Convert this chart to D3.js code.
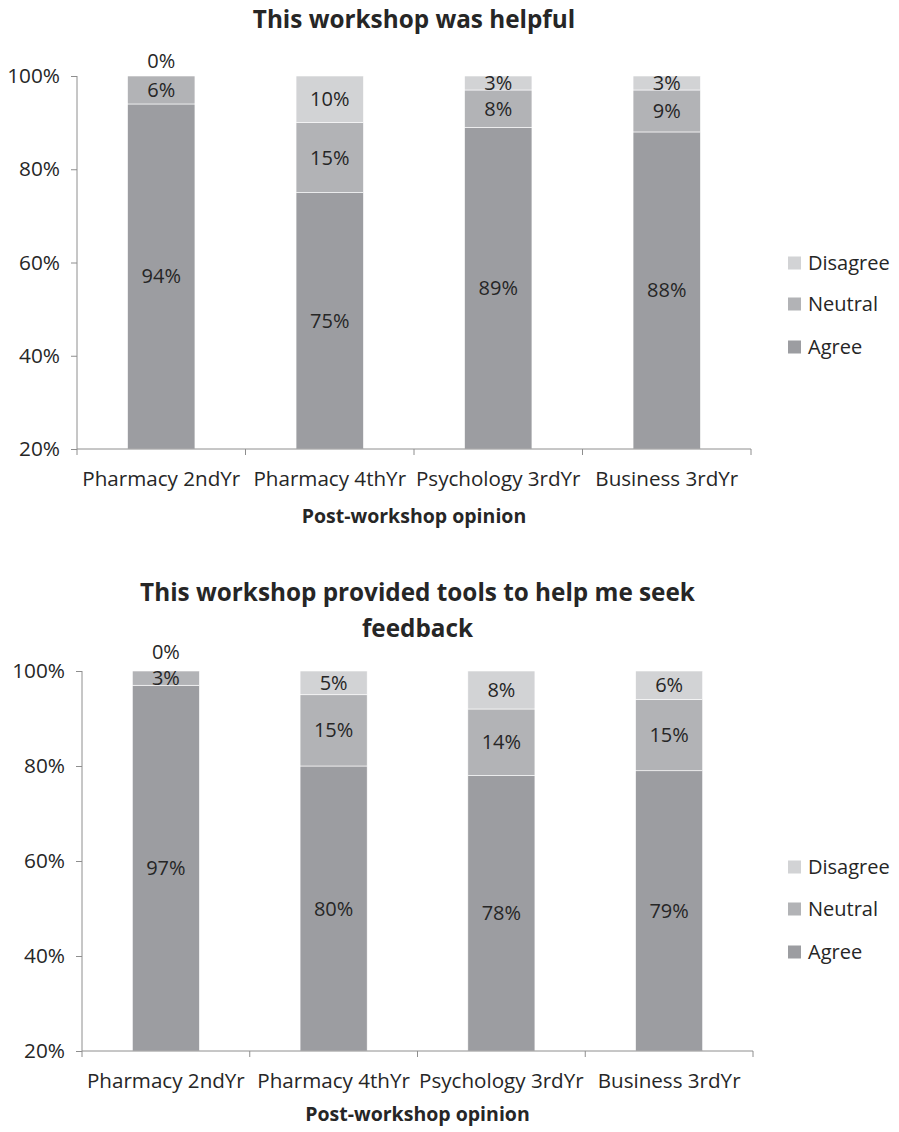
<!DOCTYPE html>
<html>
<head>
<meta charset="utf-8">
<script src="https://cdn.jsdelivr.net/npm/d3@7"></script>
<style>
  html, body { margin: 0; padding: 0; background: #fff; }
  svg { display: block; font-family: "Open Sans", "Noto Sans", sans-serif; }
</style>
</head>
<body>
<svg id="chart" width="899" height="1132"></svg>
<script>
// Survey groups and response categories
const categories = ["Pharmacy 2ndYr", "Pharmacy 4thYr", "Psychology 3rdYr", "Business 3rdYr"];
const seriesNames = ["Agree", "Neutral", "Disagree"];
const legendOrder = ["Disagree", "Neutral", "Agree"];
const yTicks = [20, 40, 60, 80, 100];

// "This workshop was helpful" (percent of respondents)
const helpfulAgree = [94, 75, 89, 88];
const helpfulNeutral = [6, 15, 8, 9];
const helpfulDisagree = [0, 10, 3, 3];

// "This workshop provided tools to help me seek feedback"
const toolsAgree = [97, 80, 78, 79];
const toolsNeutral = [3, 15, 14, 15];
const toolsDisagree = [0, 5, 8, 6];

const colors = { Agree: "#9c9da1", Neutral: "#b2b3b6", Disagree: "#d2d3d5" };
const axisColor = "#8e8e8e";
const textColor = "#262626";

const svg = d3.select("#chart");

function drawChart(opts) {
  const { titleLines, titleBaselines, left, right, top, bottom,
          catBaseline, xTitleBaseline, legendX, legendRows, data } = opts;

  const g = svg.append("g");

  // rows for stacking
  const rows = categories.map((c, i) => ({
    category: c,
    Agree: data.Agree[i], Neutral: data.Neutral[i], Disagree: data.Disagree[i]
  }));
  const stacked = d3.stack().keys(seriesNames)(rows);

  const x = d3.scaleBand().domain(categories).range([left, right])
    .paddingInner(0.6).paddingOuter(0.3);
  const y = d3.scaleLinear().domain([20, 100]).range([bottom, top]).clamp(true);

  // title
  titleLines.forEach((t, i) => {
    g.append("text")
      .attr("x", (left + right) / 2)
      .attr("y", titleBaselines[i])
      .attr("text-anchor", "middle")
      .attr("font-size", 24.3)
      .attr("font-weight", 700)
      .attr("fill", textColor)
      .text(t);
  });

  // stacked segments
  stacked.forEach(layer => {
    g.append("g").selectAll("rect")
      .data(layer)
      .join("rect")
      .attr("x", d => x(d.data.category))
      .attr("width", x.bandwidth())
      .attr("y", d => y(d[1]))
      .attr("height", d => Math.max(0, y(d[0]) - y(d[1])))
      .attr("fill", colors[layer.key])
      .attr("stroke", "#ffffff")
      .attr("stroke-width", 0.6);
  });

  // label centre of a segment (visible part only)
  const segMid = d => (y(Math.max(d[0], 20)) + y(d[1])) / 2;

  // value labels; an empty segment is labelled just above the bar,
  // kept clear of the label of the segment beneath it
  stacked.forEach((layer, li) => {
    g.append("g").selectAll("text")
      .data(layer)
      .join("text")
      .attr("x", d => x(d.data.category) + x.bandwidth() / 2)
      .attr("y", (d, i) => {
        if (d[1] - d[0] > 0) return segMid(d);
        let yy = y(d[1]) - 15;
        if (li > 0) {
          const below = stacked[li - 1][i];
          yy = Math.min(yy, segMid(below) - 26);
        }
        return yy;
      })
      .attr("dy", "0.35em")
      .attr("text-anchor", "middle")
      .attr("font-size", 20)
      .attr("fill", textColor)
      .text(d => (d[1] - d[0]) + "%");
  });

  // y axis
  const yAxis = d3.axisLeft(y).tickValues(yTicks).tickSize(6).tickPadding(11)
    .tickFormat(d => d + "%");
  const ya = g.append("g").attr("transform", `translate(${left},0)`).call(yAxis);
  ya.select(".domain").attr("stroke", axisColor).attr("d", `M0,${top}V${bottom}`);
  ya.selectAll(".tick line").attr("stroke", axisColor);
  ya.selectAll(".tick text").attr("font-size", 20.8).attr("fill", textColor)
    .attr("font-family", "Open Sans");

  // x axis: boundary ticks between categories
  const step = x.step();
  const boundaries = d3.range(categories.length + 1).map(i => left + i * step);
  g.append("line")
    .attr("x1", left).attr("x2", right)
    .attr("y1", bottom).attr("y2", bottom)
    .attr("stroke", axisColor);
  g.append("g").selectAll("line")
    .data(boundaries)
    .join("line")
    .attr("x1", d => d).attr("x2", d => d)
    .attr("y1", bottom).attr("y2", bottom + 6)
    .attr("stroke", axisColor);

  g.append("g").selectAll("text")
    .data(categories)
    .join("text")
    .attr("x", d => x(d) + x.bandwidth() / 2)
    .attr("y", catBaseline)
    .attr("text-anchor", "middle")
    .attr("font-size", 20.6)
    .attr("fill", textColor)
    .text(d => d);

  g.append("text")
    .attr("x", (left + right) / 2)
    .attr("y", xTitleBaseline)
    .attr("text-anchor", "middle")
    .attr("font-size", 19.5)
    .attr("font-weight", 700)
    .attr("fill", textColor)
    .text("Post-workshop opinion");

  // legend
  const lg = g.append("g");
  legendOrder.forEach((k, i) => {
    const cy = legendRows[i];
    lg.append("rect")
      .attr("x", legendX).attr("y", cy - 6.5)
      .attr("width", 13).attr("height", 13)
      .attr("fill", colors[k]);
    lg.append("text")
      .attr("x", legendX + 20).attr("y", cy)
      .attr("dy", "0.35em")
      .attr("font-size", 20)
      .attr("fill", textColor)
      .text(k);
  });
}

drawChart({
  titleLines: ["This workshop was helpful"],
  titleBaselines: [28],
  left: 77, right: 751, top: 76, bottom: 449,
  catBaseline: 486, xTitleBaseline: 523,
  legendX: 788, legendRows: [263, 304, 347],
  data: { Agree: helpfulAgree, Neutral: helpfulNeutral, Disagree: helpfulDisagree }
});

drawChart({
  titleLines: ["This workshop provided tools to help me seek", "feedback"],
  titleBaselines: [601, 637],
  left: 82, right: 753, top: 671, bottom: 1051,
  catBaseline: 1088, xTitleBaseline: 1121,
  legendX: 788, legendRows: [867, 909, 952],
  data: { Agree: toolsAgree, Neutral: toolsNeutral, Disagree: toolsDisagree }
});
</script>
</body>
</html>
